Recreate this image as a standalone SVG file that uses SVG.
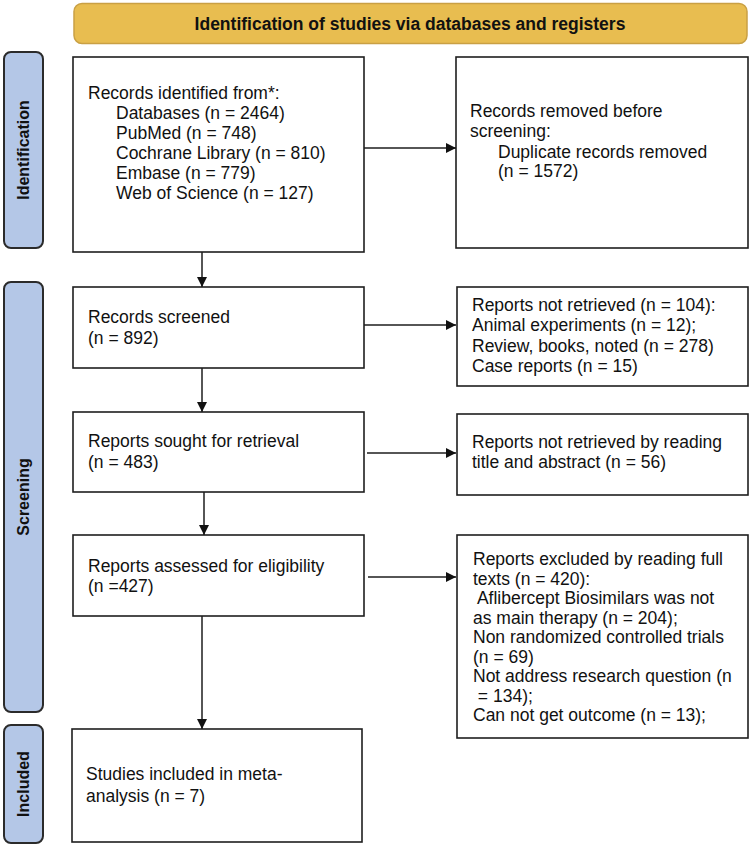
<svg xmlns="http://www.w3.org/2000/svg" width="752" height="847" viewBox="0 0 752 847">
<style>
  .box{fill:#fff;stroke:#1e1e1e;stroke-width:1.6}
  .lab{fill:#b4c7e7;stroke:#2b2b2b;stroke-width:2}
  .t{font-family:"Liberation Sans",Arial,sans-serif;font-size:17.5px;fill:#111}
  .lt{font-family:"Liberation Sans",Arial,sans-serif;font-size:16px;font-weight:bold;fill:#111}
  .conn line{stroke:#1e1e1e;stroke-width:1.5}
</style>
<defs>
  <marker id="ah" viewBox="0 0 10 10" refX="10" refY="5" markerWidth="10" markerHeight="10" markerUnits="userSpaceOnUse" orient="auto">
    <path d="M0,0 L10,5 L0,10 z" fill="#111"/>
  </marker>
</defs>
<rect width="752" height="847" fill="#fff"/>

<g id="header">
  <rect x="74" y="3.5" width="673" height="40" rx="8" fill="#e8bd50" stroke="#c9a044" stroke-width="1.5"/>
  <text x="410" y="30" text-anchor="middle" font-family="Liberation Sans,Arial,sans-serif" font-size="17.5" font-weight="bold" fill="#111">Identification of studies via databases and registers</text>
</g>

<g id="label-identification">
  <rect class="lab" x="4" y="52" width="39" height="196" rx="7"/>
  <text class="lt" transform="translate(29,150) rotate(-90)" text-anchor="middle">Identification</text>
</g>
<g id="label-screening">
  <rect class="lab" x="4" y="282" width="39" height="430" rx="7"/>
  <text class="lt" transform="translate(29,497) rotate(-90)" text-anchor="middle">Screening</text>
</g>
<g id="label-included">
  <rect class="lab" x="4" y="725" width="39" height="118" rx="7"/>
  <text class="lt" transform="translate(29,784) rotate(-90)" text-anchor="middle">Included</text>
</g>

<g id="records-identified">
  <rect class="box" x="73" y="57" width="291" height="195"/>
  <text class="t" x="88" y="99">Records identified from*:</text>
  <text class="t" x="116" y="119">Databases (n = 2464)</text>
  <text class="t" x="116" y="139">PubMed (n = 748)</text>
  <text class="t" x="116" y="159">Cochrane Library (n = 810)</text>
  <text class="t" x="116" y="179">Embase (n = 779)</text>
  <text class="t" x="116" y="199">Web of Science (n = 127)</text>
</g>

<g id="records-removed">
  <rect class="box" x="456" y="57" width="292" height="191"/>
  <text class="t" x="470" y="117">Records removed before</text>
  <text class="t" x="470" y="137">screening:</text>
  <text class="t" x="498" y="158">Duplicate records removed</text>
  <text class="t" x="498" y="177">(n = 1572)</text>
</g>

<g id="records-screened">
  <rect class="box" x="73" y="287" width="291" height="81"/>
  <text class="t" x="88" y="323">Records screened</text>
  <text class="t" x="88" y="344">(n = 892)</text>
</g>

<g id="reports-not-retrieved">
  <rect class="box" x="457" y="287" width="291" height="99"/>
  <text class="t" x="472" y="311">Reports not retrieved (n = 104):</text>
  <text class="t" x="472" y="331">Animal experiments (n = 12);</text>
  <text class="t" x="472" y="352">Review, books, noted (n = 278)</text>
  <text class="t" x="472" y="372">Case reports (n = 15)</text>
</g>

<g id="reports-sought">
  <rect class="box" x="73" y="412" width="291" height="80"/>
  <text class="t" x="88" y="447">Reports sought for retrieval</text>
  <text class="t" x="88" y="468">(n = 483)</text>
</g>

<g id="reports-not-retrieved-title">
  <rect class="box" x="457" y="414" width="291" height="81"/>
  <text class="t" x="472" y="448">Reports not retrieved by reading</text>
  <text class="t" x="472" y="468">title and abstract (n = 56)</text>
</g>

<g id="reports-assessed">
  <rect class="box" x="73" y="535" width="291" height="81"/>
  <text class="t" x="88" y="572">Reports assessed for eligibility</text>
  <text class="t" x="88" y="592">(n =427)</text>
</g>

<g id="reports-excluded">
  <rect class="box" x="457" y="535" width="291" height="203"/>
  <text class="t" x="473" y="565">Reports excluded by reading full</text>
  <text class="t" x="473" y="584.5">texts (n = 420):</text>
  <text class="t" x="473" y="604" xml:space="preserve"> Aflibercept Biosimilars was not</text>
  <text class="t" x="473" y="623.5">as main therapy (n = 204);</text>
  <text class="t" x="473" y="643">Non randomized controlled trials</text>
  <text class="t" x="473" y="662.5">(n = 69)</text>
  <text class="t" x="473" y="682">Not address research question (n</text>
  <text class="t" x="473" y="701.5" xml:space="preserve"> = 134);</text>
  <text class="t" x="473" y="721">Can not get outcome (n = 13);</text>
</g>

<g id="studies-included">
  <rect class="box" x="72" y="729" width="290" height="113"/>
  <text class="t" x="86" y="780">Studies included in meta-</text>
  <text class="t" x="86" y="802">analysis (n = 7)</text>
</g>

<g id="connectors" class="conn">
  <line x1="364" y1="148" x2="456" y2="148" marker-end="url(#ah)"/>
  <line x1="202" y1="252" x2="202" y2="287" marker-end="url(#ah)"/>
  <line x1="364" y1="325" x2="456" y2="325" marker-end="url(#ah)"/>
  <line x1="202" y1="368" x2="202" y2="412" marker-end="url(#ah)"/>
  <line x1="367" y1="453" x2="456" y2="453" marker-end="url(#ah)"/>
  <line x1="204" y1="492" x2="204" y2="535" marker-end="url(#ah)"/>
  <line x1="368" y1="577" x2="456" y2="577" marker-end="url(#ah)"/>
  <line x1="202" y1="616" x2="202" y2="729" marker-end="url(#ah)"/>
</g>
</svg>
